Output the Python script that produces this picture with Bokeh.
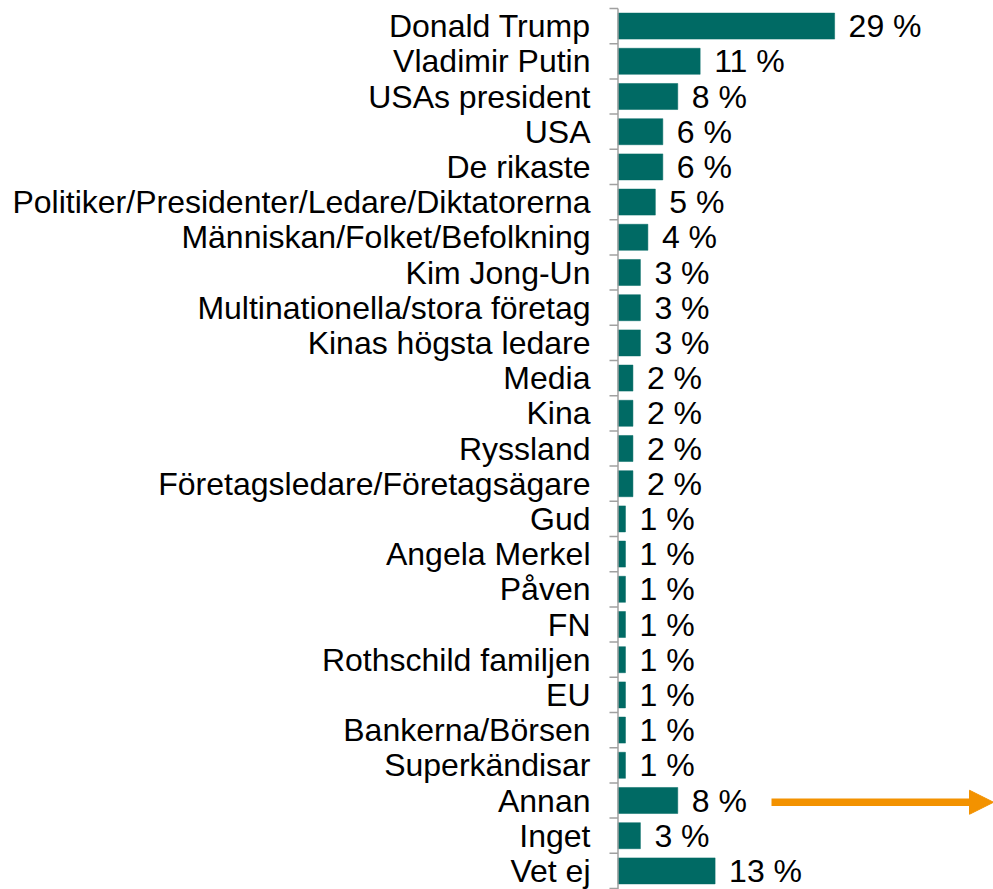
from bokeh.plotting import figure
from bokeh.models import Range1d, FixedTicker, Arrow, NormalHead
from bokeh.core.properties import value
from bokeh.embed import file_html
from bokeh.resources import INLINE

categories = [
    "Donald Trump", "Vladimir Putin", "USAs president", "USA", "De rikaste",
    "Politiker/Presidenter/Ledare/Diktatorerna", "Människan/Folket/Befolkning",
    "Kim Jong-Un", "Multinationella/stora företag", "Kinas högsta ledare",
    "Media", "Kina", "Ryssland", "Företagsledare/Företagsägare", "Gud",
    "Angela Merkel", "Påven", "FN", "Rothschild familjen", "EU",
    "Bankerna/Börsen", "Superkändisar", "Annan", "Inget", "Vet ej",
]
values = [29, 11, 8, 6, 6, 5, 4, 3, 3, 3, 2, 2, 2, 2, 1, 1, 1, 1, 1, 1, 1, 1, 8, 3, 13]
highlight = "Annan"

FONT = "Liberation Sans"
BAR = "#006A64"
AXIS = "#A0A0A0"
ORANGE = "#F39200"

n = len(categories)
pos = [n - 1 - i for i in range(n)]
labels = [f"{v} %" for v in values]

W, H = 993, 889
FRAME_LEFT = 605
ROW = 35.2
x_start, x_end = -1.673, 50.27
y_end = n - 0.5 + 8.0 / ROW
y_start = y_end - H / ROW

p = figure(width=W, height=H, output_backend="svg", toolbar_location=None,
           x_range=Range1d(x_start, x_end), y_range=Range1d(y_start, y_end),
           min_border_left=FRAME_LEFT, min_border_right=0, min_border_top=0, min_border_bottom=0)
p.outline_line_color = None
p.xgrid.visible = False
p.ygrid.visible = False
p.xaxis.visible = False

ya = p.yaxis[0]
ya.ticker = FixedTicker(ticks=pos)
ya.major_label_overrides = {y: c for y, c in zip(pos, categories)}
ya.axis_line_color = None
ya.major_tick_line_color = None
ya.minor_tick_line_color = None
ya.major_tick_out = 0
ya.major_tick_in = 0
ya.major_label_standoff = 15
ya.major_label_text_font = FONT
ya.major_label_text_font_size = "32px"
ya.major_label_text_color = "#000000"

p.hbar(y=pos, left=0, right=values, height=0.74, fill_color=BAR, line_color=BAR, line_width=0.5)

p.text(x=values, y=pos, text=labels, x_offset=14, text_baseline="middle", text_align="left",
       text_font=value(FONT), text_font_size="32px", text_color="#000000")

# axis line and boundary ticks
tick_len = 8.5 / 7.47
bounds = [y + 0.5 for y in range(-1, n)]
p.segment(x0=[-tick_len] * len(bounds), y0=bounds, x1=[0] * len(bounds), y1=bounds,
          line_color=AXIS, line_width=1.5)
p.segment(x0=[0], y0=[n - 0.5], x1=[0], y1=[y_start], line_color=AXIS, line_width=1.5)

hi = categories.index(highlight)
p.add_layout(Arrow(end=NormalHead(size=24, fill_color=ORANGE, line_color=ORANGE),
                   x_start=values[hi] + 12.55, y_start=pos[hi] - 0.05,
                   x_end=x_end, y_end=pos[hi] - 0.05,
                   line_color=ORANGE, line_width=7.5))

open("out.html", "w").write(file_html(p, INLINE))
